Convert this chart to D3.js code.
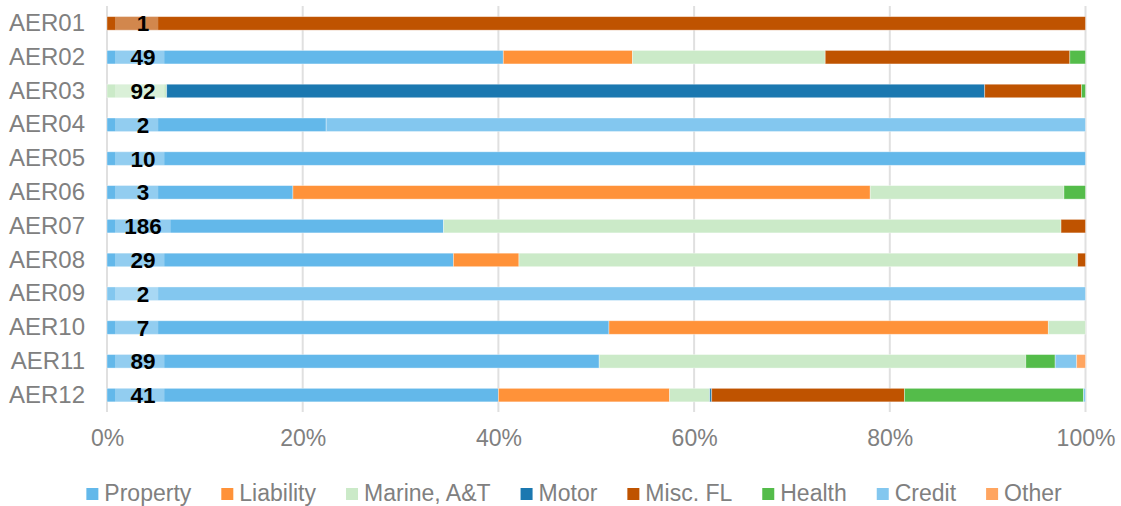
<!DOCTYPE html>
<html>
<head>
<meta charset="utf-8">
<script src="https://cdn.jsdelivr.net/npm/d3@7"></script>
<style>
  html, body { margin: 0; padding: 0; background: #fff; }
  svg { display: block; font-family: "Liberation Sans", Arial, sans-serif; }
</style>
</head>
<body>
<div id="chart"></div>
<script>
// ---- data (share of premiums in %, per AER) ----
const categories = ["AER01", "AER02", "AER03", "AER04", "AER05", "AER06",
                    "AER07", "AER08", "AER09", "AER10", "AER11", "AER12"];
const counts = [1, 49, 92, 2, 10, 3, 186, 29, 2, 7, 89, 41];

const seriesNames = ["Property", "Liability", "Marine, A&T", "Motor", "Misc. FL", "Health", "Credit", "Other"];
const seriesColors = ["#63b8ea", "#ff9239", "#cbeac8", "#1b78b0", "#bf5300", "#54bc4a", "#83c7ef", "#ffa560"];

const property  = [0, 40.5, 0, 22.4, 100, 19.0, 34.4, 35.4, 0, 51.3, 50.3, 40.0];
const liability = [0, 13.2, 0, 0, 0, 59.0, 0, 6.7, 0, 44.9, 0, 17.5];
const marine    = [0, 19.7, 6.1, 0, 0, 19.8, 63.1, 57.1, 0, 3.8, 43.6, 4.1];
const motor     = [0, 0, 83.6, 0, 0, 0, 0, 0, 0, 0, 0, 0.2];
const miscFL    = [100, 25.0, 9.9, 0, 0, 0, 2.5, 0.8, 0, 0, 0, 19.7];
const health    = [0, 1.6, 0.4, 0, 0, 2.2, 0, 0, 0, 0, 3.0, 18.3];
const credit    = [0, 0, 0, 77.6, 0, 0, 0, 0, 100, 0, 2.2, 0.2];
const other     = [0, 0, 0, 0, 0, 0, 0, 0, 0, 0, 0.9, 0];

const seriesValues = [property, liability, marine, motor, miscFL, health, credit, other];
const xTicks = [0, 0.2, 0.4, 0.6, 0.8, 1];

// table for d3.stack
const rows = categories.map((c, i) => {
  const r = { cat: c, count: counts[i] };
  seriesNames.forEach((s, j) => { r[s] = seriesValues[j][i]; });
  return r;
});

const WIDTH = 1121, HEIGHT = 506;
const AXIS_GREY = "#808080";
const GRID = "#e0e0e0";

const svg = d3.select("#chart").append("svg")
  .attr("width", WIDTH)
  .attr("height", HEIGHT);

const x = d3.scaleLinear().domain([0, 1]).range([107, 1085.5]);
const y = d3.scaleBand().domain(categories).range([6.5, 412]).paddingInner(0.6).paddingOuter(0.3);

// gridlines
svg.append("g")
  .selectAll("line")
  .data(xTicks)
  .join("line")
  .attr("x1", d => x(d)).attr("x2", d => x(d))
  .attr("y1", 6).attr("y2", 412)
  .attr("stroke", GRID)
  .attr("stroke-width", 2);

// stacked bars
const stack = d3.stack().keys(seriesNames).offset(d3.stackOffsetExpand);
const stacked = stack(rows);

svg.append("g")
  .selectAll("g")
  .data(stacked)
  .join("g")
  .attr("fill", (d, i) => seriesColors[i])
  .selectAll("rect")
  .data(d => d.filter(p => p[1] - p[0] > 0))
  .join("rect")
  .attr("x", d => x(d[0]))
  .attr("y", d => y(d.data.cat))
  .attr("width", d => x(d[1]) - x(d[0]))
  .attr("height", y.bandwidth())
  .attr("stroke", "#fff")
  .attr("stroke-opacity", 0.45)
  .attr("stroke-width", 0.8);

// count labels with translucent box
const labelX = 143;
const lab = svg.append("g")
  .selectAll("g")
  .data(rows)
  .join("g");

lab.append("text")
  .attr("x", labelX)
  .attr("y", d => y(d.cat) + y.bandwidth() / 2)
  .attr("dy", "0.36em")
  .attr("text-anchor", "middle")
  .style("font-size", "22.5px")
  .style("font-weight", "bold")
  .attr("fill", "#000")
  .text(d => d.count);

lab.each(function(d) {
  const g = d3.select(this);
  const w = g.select("text").node().getComputedTextLength();
  g.insert("rect", "text")
    .attr("x", 115)
    .attr("y", y(d.cat))
    .attr("width", labelX + w / 2 + 9 - 115)
    .attr("height", y.bandwidth())
    .attr("fill", "#fff")
    .attr("opacity", 0.3);
});

// y axis labels
const yAxis = svg.append("g")
  .attr("transform", "translate(107,0)")
  .call(d3.axisLeft(y).tickSize(0).tickPadding(22));
yAxis.select(".domain").remove();
yAxis.selectAll("text")
  .attr("fill", AXIS_GREY)
  .style("font-size", "24px")
  .style("font-family", "Liberation Sans, Arial, sans-serif");

// x axis labels
const xAxis = svg.append("g")
  .attr("transform", "translate(0,412)")
  .call(d3.axisBottom(x).tickValues(xTicks).tickFormat(d3.format(".0%")).tickSize(0).tickPadding(18));
xAxis.select(".domain").remove();
xAxis.selectAll("text")
  .attr("fill", AXIS_GREY)
  .style("font-size", "23px")
  .style("font-family", "Liberation Sans, Arial, sans-serif");

// legend
const legend = svg.append("g");
const legendY = 494;
const legendGap = 30;
let cursor = 0;
seriesNames.forEach((name, i) => {
  const g = legend.append("g");
  g.append("rect")
    .attr("x", 0).attr("y", legendY - 6)
    .attr("width", 12).attr("height", 12)
    .attr("fill", seriesColors[i]);
  const t = g.append("text")
    .attr("x", 18).attr("y", legendY + 6.5)
    .attr("fill", AXIS_GREY)
    .style("font-size", "23px")
    .text(name);
  const w = 18 + t.node().getComputedTextLength();
  g.attr("transform", `translate(${cursor},0)`);
  cursor += w + legendGap;
});
const legendWidth = cursor - legendGap;
legend.attr("transform", `translate(${574 - legendWidth / 2},0)`);
</script>
</body>
</html>
